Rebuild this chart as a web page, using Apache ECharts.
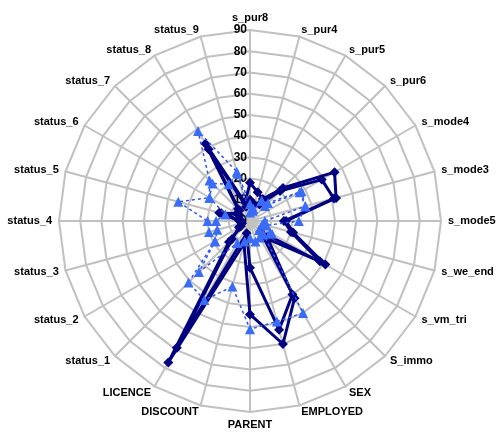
<!DOCTYPE html>
<html><head><meta charset="utf-8">
<script src="https://cdn.jsdelivr.net/npm/echarts@6/dist/echarts.min.js"></script>
<style>html,body{margin:0;padding:0;background:#fff}#c{width:499px;height:435px}</style>
</head><body><div id="c"></div>
<script>
// indicators in clockwise order starting at top
var indicators = ['s_pur8','s_pur4','s_pur5','s_pur6','s_mode4','s_mode3','s_mode5','s_we_end','s_vm_tri','S_immo','SEX','EMPLOYED','PARENT','DISCOUNT','LICENCE','status_1','status_2','status_3','status_4','status_5','status_6','status_7','status_8','status_9'];
var axisMax = 90;
var tickStep = 10;
var seriesA = [18, 14, 12, 22, 46, 42, 17, 21, 41, 7, 42, 60, 44, 11, 77, 14, 5, 4, 4, 15, 6, 8, 42, 9];
var seriesB = [10, 8, 9, 20, 39, 41, 16, 20, 38, 12, 40, 53, 22, 6, 69, 12, 6, 4, 5, 14, 7, 7, 39, 7];
var seriesC = [8, 6, 11, 12, 28, 27, 23, 8, 11, 9, 50, 49, 51, 32, 43, 41, 19, 20, 20, 35, 22, 27, 49, 24];
var seriesD = [4, 5, 11, 10, 27, 27, 7, 6, 12, 6, 9, 10, 8, 10, 12, 34, 19, 16, 16, 12, 22, 25, 20, 23];

// ECharts radar places indicators counter-clockwise; reorder so they read clockwise
var order = [0];
for (var i = indicators.length - 1; i >= 1; i--) order.push(i);
function reorder(arr) { return order.map(function (k) { return arr[k]; }); }

var ind = order.map(function (k, idx) {
  var o = { name: indicators[k], min: 0, max: axisMax };
  if (idx === 0) {
    o.axisLabel = { show: true, color: '#000', fontWeight: 'bold', fontSize: 12, fontFamily: 'Liberation Sans, Arial', margin: 3 };
  }
  return o;
});

var dark = '#000080';
var lightLine = '#2f55f0';
var lightMark = '#3a6cf7';

function darkSeries(vals) {
  return { value: reorder(vals), symbol: 'diamond', symbolSize: 10,
    lineStyle: { color: dark, width: 3 }, itemStyle: { color: dark } };
}
function lightSeries(vals) {
  return { value: reorder(vals), symbol: 'triangle', symbolSize: 10,
    lineStyle: { color: lightLine, width: 1.5, type: [3, 3] }, itemStyle: { color: lightMark } };
}

var chart = echarts.init(document.getElementById('c'), null, { renderer: 'canvas' });
chart.setOption({
  backgroundColor: '#fff',
  animation: false,
  radar: {
    center: [250, 221],
    radius: 191,
    startAngle: 90,
    shape: 'polygon',
    splitNumber: axisMax / tickStep,
    indicator: ind,
    axisName: { color: '#000', fontWeight: 'bold', fontSize: 11, fontFamily: 'Liberation Sans, Arial' },
    nameGap: 7,
    axisLine: { lineStyle: { color: '#c0c0c0', width: 2 } },
    splitLine: { lineStyle: { color: '#c0c0c0', width: 2 } },
    splitArea: { show: false },
    axisLabel: { show: false },
    axisTick: { show: false }
  },
  series: [
    { type: 'radar', z: 2, data: [darkSeries(seriesA), darkSeries(seriesB)] },
    { type: 'radar', z: 3, data: [lightSeries(seriesC), lightSeries(seriesD)] }
  ]
});
</script></body></html>
